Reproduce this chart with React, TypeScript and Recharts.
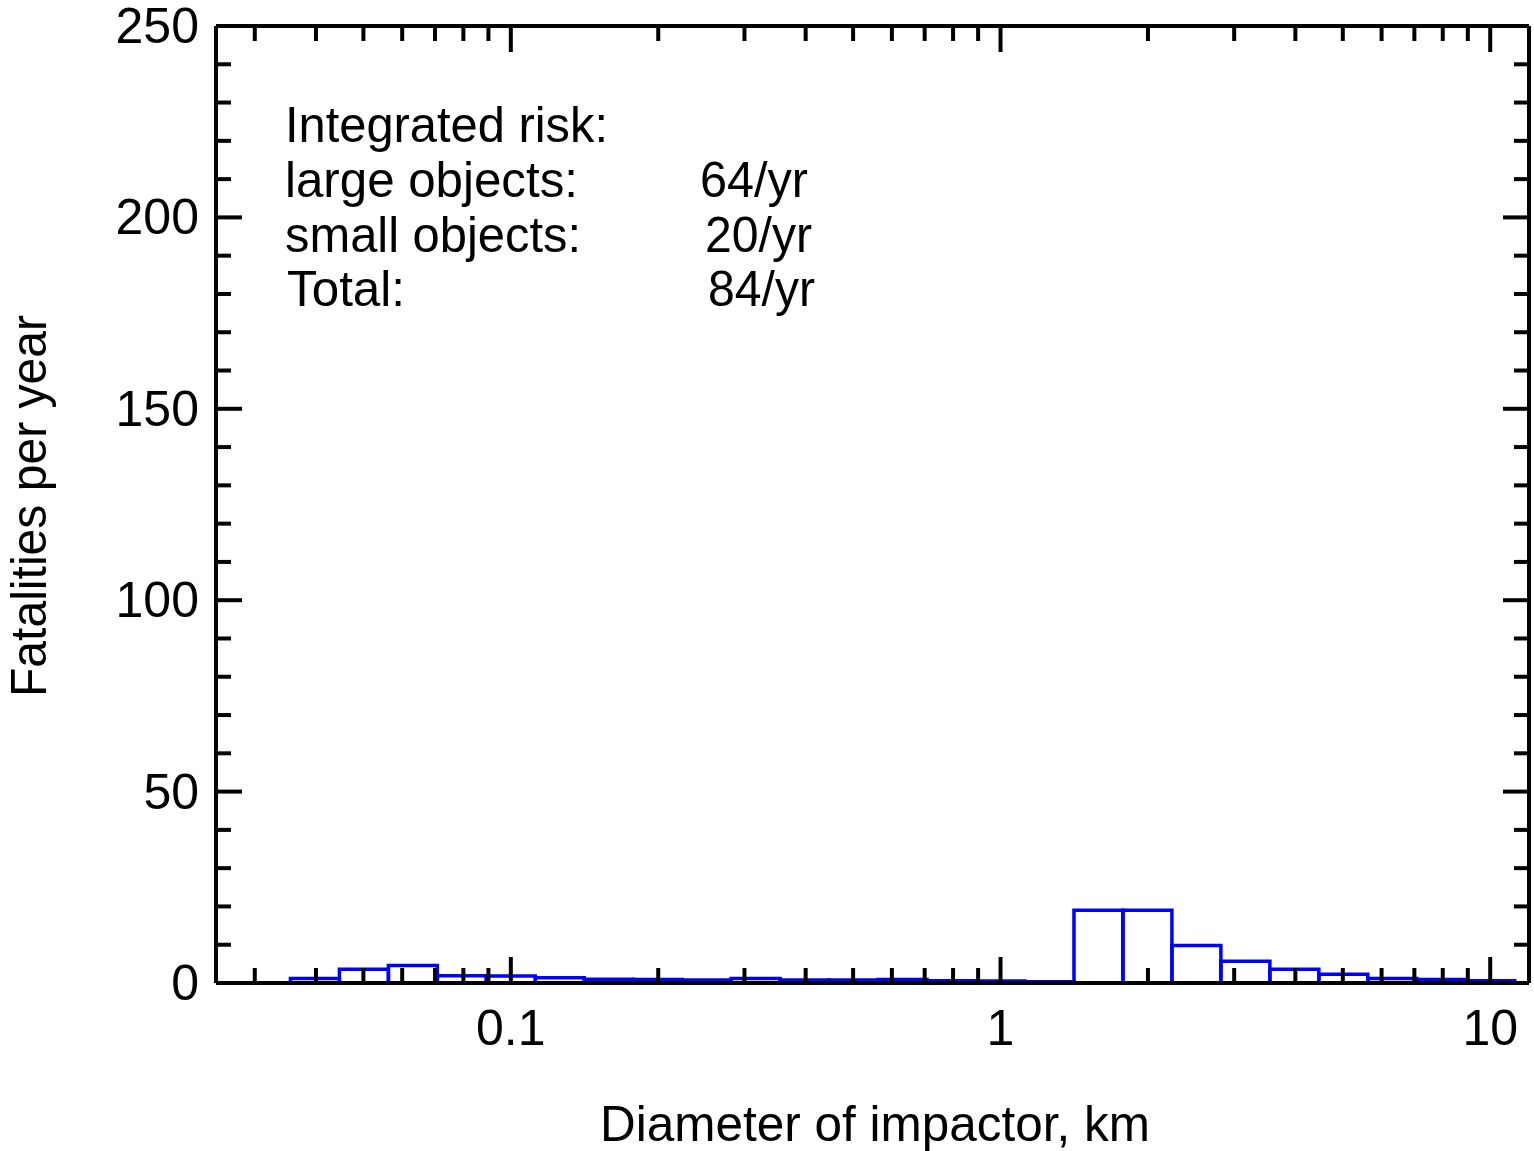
import React from 'react';
import { ComposedChart, XAxis, YAxis, ReferenceArea } from 'recharts';

// bin centres in log10(km), bins are 0.1 dex wide
const binLogCenters = [
  -1.4, -1.3, -1.2, -1.1, -1.0, -0.9, -0.8, -0.7, -0.6, -0.5, -0.4, -0.3, -0.2,
  -0.1, 0.0, 0.1, 0.2, 0.3, 0.4, 0.5, 0.6, 0.7, 0.8, 0.9, 1.0,
];
const fatalities = [
  1.2, 3.6, 4.6, 1.9, 1.8, 1.4, 1.0, 0.9, 0.8, 1.2, 0.8, 0.8, 0.9,
  0.6, 0.5, 0.3, 19.0, 19.0, 9.8, 5.7, 3.6, 2.3, 1.2, 0.9, 0.6,
];
const BIN_HALF = 0.05;

const xMajorTicks = [0.1, 1, 10];
const xTicks = [
  0.03, 0.04, 0.05, 0.06, 0.07, 0.08, 0.09, 0.1,
  0.2, 0.3, 0.4, 0.5, 0.6, 0.7, 0.8, 0.9, 1,
  2, 3, 4, 5, 6, 7, 8, 9, 10,
];
const yTicks = [
  0, 10, 20, 30, 40, 50, 60, 70, 80, 90, 100, 110, 120, 130, 140, 150,
  160, 170, 180, 190, 200, 210, 220, 230, 240, 250,
];
const yMajorTicks = [0, 50, 100, 150, 200, 250];

const riskTitle = 'Integrated risk:';
const riskLabels = ['large objects:', 'small objects:', 'Total:'];
const riskValues = ['64/yr', '20/yr', '84/yr'];

const FONT = "'Liberation Sans', Arial, Helvetica, sans-serif";
const W = 1534;
const H = 1151;

const bins = binLogCenters.map((c, i) => ({
  x: Math.pow(10, c),
  x1: Math.pow(10, c - BIN_HALF),
  x2: Math.pow(10, c + BIN_HALF),
  y: fatalities[i],
}));

function BottomTick(props: any) {
  const { x, y, payload } = props;
  const major = xMajorTicks.includes(payload.value);
  return (
    <g>
      <line x1={x} x2={x} y1={y} y2={y - (major ? 26 : 15)} stroke="#000" strokeWidth={4} />
      {major && (
        <text x={x} y={y + 62} textAnchor="middle" fontSize={50} fontFamily={FONT} fill="#000">
          {String(payload.value)}
        </text>
      )}
    </g>
  );
}

function TopTick(props: any) {
  const { x, y, payload } = props;
  const major = xMajorTicks.includes(payload.value);
  return <line x1={x} x2={x} y1={y} y2={y + (major ? 26 : 15)} stroke="#000" strokeWidth={4} />;
}

function LeftTick(props: any) {
  const { x, y, payload } = props;
  const major = yMajorTicks.includes(payload.value);
  return (
    <g>
      <line x1={x} x2={x + (major ? 26 : 15)} y1={y} y2={y} stroke="#000" strokeWidth={4} />
      {major && (
        <text x={x - 17} y={y + 17} textAnchor="end" fontSize={50} fontFamily={FONT} fill="#000">
          {String(payload.value)}
        </text>
      )}
    </g>
  );
}

function RightTick(props: any) {
  const { x, y, payload } = props;
  const major = yMajorTicks.includes(payload.value);
  return <line x1={x} x2={x - (major ? 26 : 15)} y1={y} y2={y} stroke="#000" strokeWidth={4} />;
}

export default function App() {
  const axisLine = { stroke: '#000', strokeWidth: 4 };
  return (
    <div style={{ position: 'absolute', left: 0, top: 0, width: W, height: H, background: '#fff' }}>
      <ComposedChart
        width={W}
        height={H}
        data={bins}
        margin={{ top: 25, right: 4, bottom: 167, left: 215 }}
      >
        <XAxis
          xAxisId="b"
          dataKey="x"
          type="number"
          scale="log"
          domain={[0.025, 12]}
          allowDataOverflow
          ticks={xTicks}
          interval={0}
          height={1}
          tickSize={0}
          tickMargin={0}
          tickLine={false}
          axisLine={axisLine}
          tick={BottomTick}
        />
        <XAxis
          xAxisId="t"
          orientation="top"
          dataKey="x"
          type="number"
          scale="log"
          domain={[0.025, 12]}
          allowDataOverflow
          ticks={xTicks}
          interval={0}
          height={1}
          tickSize={0}
          tickMargin={0}
          tickLine={false}
          axisLine={axisLine}
          tick={TopTick}
        />
        <YAxis
          yAxisId="l"
          type="number"
          domain={[0, 250]}
          allowDataOverflow
          ticks={yTicks}
          interval={0}
          width={1}
          tickSize={0}
          tickMargin={0}
          tickLine={false}
          axisLine={axisLine}
          tick={LeftTick}
        />
        <YAxis
          yAxisId="r"
          orientation="right"
          type="number"
          domain={[0, 250]}
          allowDataOverflow
          ticks={yTicks}
          interval={0}
          width={1}
          tickSize={0}
          tickMargin={0}
          tickLine={false}
          axisLine={axisLine}
          tick={RightTick}
        />
        {bins.map((b, i) => (
          <ReferenceArea
            key={i}
            xAxisId="b"
            yAxisId="l"
            x1={b.x1}
            x2={b.x2}
            y1={0}
            y2={b.y}
            fill="none"
            fillOpacity={0}
            stroke="#0000ff"
            strokeWidth={3.5}
            strokeOpacity={1}
            ifOverflow="visible"
          />
        ))}
      </ComposedChart>
      <svg
        width={W}
        height={H}
        style={{ position: 'absolute', left: 0, top: 0, pointerEvents: 'none' }}
      >
        <g fontFamily={FONT} fontSize={50} fill="#000">
          <text x={285} y={142} textLength={323} lengthAdjust="spacingAndGlyphs">
            {riskTitle}
          </text>
          <text x={285} y={197} textLength={293} lengthAdjust="spacingAndGlyphs">
            {riskLabels[0]}
          </text>
          <text x={700} y={197} textLength={108} lengthAdjust="spacingAndGlyphs">
            {riskValues[0]}
          </text>
          <text x={285} y={252} textLength={296} lengthAdjust="spacingAndGlyphs">
            {riskLabels[1]}
          </text>
          <text x={705} y={252} textLength={107} lengthAdjust="spacingAndGlyphs">
            {riskValues[1]}
          </text>
          <text x={287} y={306} textLength={118} lengthAdjust="spacingAndGlyphs">
            {riskLabels[2]}
          </text>
          <text x={708} y={306} textLength={107} lengthAdjust="spacingAndGlyphs">
            {riskValues[2]}
          </text>
          <text x={875} y={1141} textAnchor="middle" textLength={550} lengthAdjust="spacingAndGlyphs">
            Diameter of impactor, km
          </text>
          <text
            x={0}
            y={0}
            transform="translate(46,506) rotate(-90)"
            textAnchor="middle"
            textLength={382}
            lengthAdjust="spacingAndGlyphs"
          >
            Fatalities per year
          </text>
        </g>
      </svg>
    </div>
  );
}
